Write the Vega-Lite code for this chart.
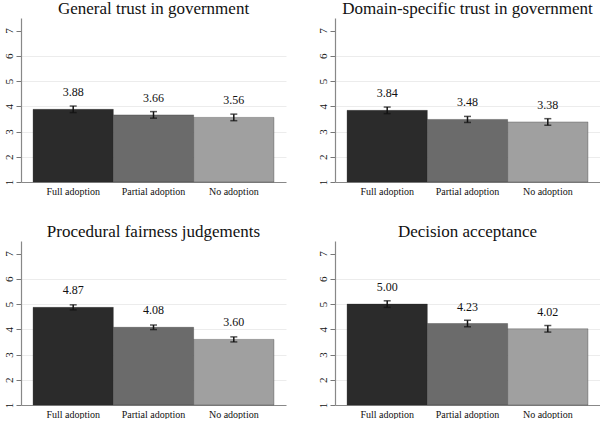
{
  "$schema": "https://vega.github.io/schema/vega-lite/v6.json",
  "padding": {"left": 2, "top": 0, "right": 2, "bottom": 0},
  "background": "white",
  "config": {
    "font": "Liberation Serif",
    "view": {"stroke": null},
    "axisY": {"labelFont": "Liberation Serif", "labelFontSize": 11, "labelColor": "#111", "labelAngle": 270, "labelAlign": "center", "labelBaseline": "bottom", "labelOverlap": false, "tickSize": 5, "tickColor": "#777", "domainColor": "#888", "domainWidth": 1.2, "labelPadding": 2},
    "axisX": {"labelFont": "Liberation Serif", "labelFontSize": 10, "labelColor": "#111"}
  },
  "data": {"values": [
    {"panel": "General trust in government", "adoption": "Full adoption", "mean": 3.88, "lo": 3.75, "hi": 4.01},
    {"panel": "General trust in government", "adoption": "Partial adoption", "mean": 3.66, "lo": 3.53, "hi": 3.79},
    {"panel": "General trust in government", "adoption": "No adoption", "mean": 3.56, "lo": 3.43, "hi": 3.69},
    {"panel": "Domain-specific trust in government", "adoption": "Full adoption", "mean": 3.84, "lo": 3.71, "hi": 3.97},
    {"panel": "Domain-specific trust in government", "adoption": "Partial adoption", "mean": 3.48, "lo": 3.36, "hi": 3.60},
    {"panel": "Domain-specific trust in government", "adoption": "No adoption", "mean": 3.38, "lo": 3.25, "hi": 3.51},
    {"panel": "Procedural fairness judgements", "adoption": "Full adoption", "mean": 4.87, "lo": 4.77, "hi": 4.97},
    {"panel": "Procedural fairness judgements", "adoption": "Partial adoption", "mean": 4.08, "lo": 3.99, "hi": 4.17},
    {"panel": "Procedural fairness judgements", "adoption": "No adoption", "mean": 3.60, "lo": 3.50, "hi": 3.70},
    {"panel": "Decision acceptance", "adoption": "Full adoption", "mean": 5.00, "lo": 4.87, "hi": 5.13},
    {"panel": "Decision acceptance", "adoption": "Partial adoption", "mean": 4.23, "lo": 4.10, "hi": 4.36},
    {"panel": "Decision acceptance", "adoption": "No adoption", "mean": 4.02, "lo": 3.89, "hi": 4.15}
  ]},
  "facet": {
    "field": "panel",
    "type": "nominal",
    "title": null,
    "sort": ["General trust in government", "Domain-specific trust in government", "Procedural fairness judgements", "Decision acceptance"],
    "header": {"labelFont": "Liberation Serif", "labelFontSize": 17, "labelColor": "#111", "labelPadding": 0}
  },
  "columns": 2,
  "spacing": {"column": 30, "row": 27},
  "resolve": {"axis": {"x": "independent", "y": "independent"}},
  "spec": {
    "width": 265,
    "height": 164,
    "encoding": {
      "x": {
        "field": "adoption", "type": "nominal",
        "sort": ["Full adoption", "Partial adoption", "No adoption"],
        "scale": {"paddingInner": 0, "paddingOuter": 0.15},
        "axis": {"title": null, "labelAngle": 0, "labelFont": "Liberation Serif", "labelFontSize": 10, "labelColor": "#111", "ticks": false, "labelPadding": 4, "domainColor": "#888", "domainWidth": 1.2}
      }
    },
    "layer": [
      {
        "mark": {"type": "bar", "stroke": "#222", "strokeWidth": 0.6, "strokeOpacity": 0.5},
        "encoding": {
          "y": {
            "field": "mean", "type": "quantitative",
            "scale": {"domain": [1, 7.5], "nice": false, "zero": false},
            "axis": {"title": null, "values": [1, 2, 3, 4, 5, 6, 7], "labelFontSize": 11,
              "grid": true, "gridColor": {"condition": {"test": "datum.value == 1 || datum.value == 7", "value": "transparent"}, "value": "#ececec"}, "gridWidth": 1}
          },
          "y2": {"datum": 1},
          "color": {
            "field": "adoption", "type": "nominal",
            "sort": ["Full adoption", "Partial adoption", "No adoption"],
            "scale": {"range": ["#2b2b2b", "#6b6b6b", "#a0a0a0"]},
            "legend": null
          }
        }
      },
      {
        "mark": {"type": "errorbar", "color": "#111", "thickness": 1.5, "ticks": {"size": 7, "thickness": 1.5}},
        "encoding": {
          "y": {"field": "lo", "type": "quantitative",
            "axis": {"title": null, "values": [1, 2, 3, 4, 5, 6, 7], "labelFontSize": 11,
              "grid": true, "gridColor": {"condition": {"test": "datum.value == 1 || datum.value == 7", "value": "transparent"}, "value": "#ececec"}, "gridWidth": 1}},
          "y2": {"field": "hi"}
        }
      },
      {
        "mark": {"type": "text", "font": "Liberation Serif", "fontSize": 12, "color": "#111", "baseline": "middle", "dy": -17},
        "encoding": {
          "y": {"field": "mean", "type": "quantitative",
            "axis": {"title": null, "values": [1, 2, 3, 4, 5, 6, 7], "labelFontSize": 11,
              "grid": true, "gridColor": {"condition": {"test": "datum.value == 1 || datum.value == 7", "value": "transparent"}, "value": "#ececec"}, "gridWidth": 1}},
          "text": {"field": "mean", "type": "quantitative", "format": ".2f"}
        }
      }
    ]
  }
}
